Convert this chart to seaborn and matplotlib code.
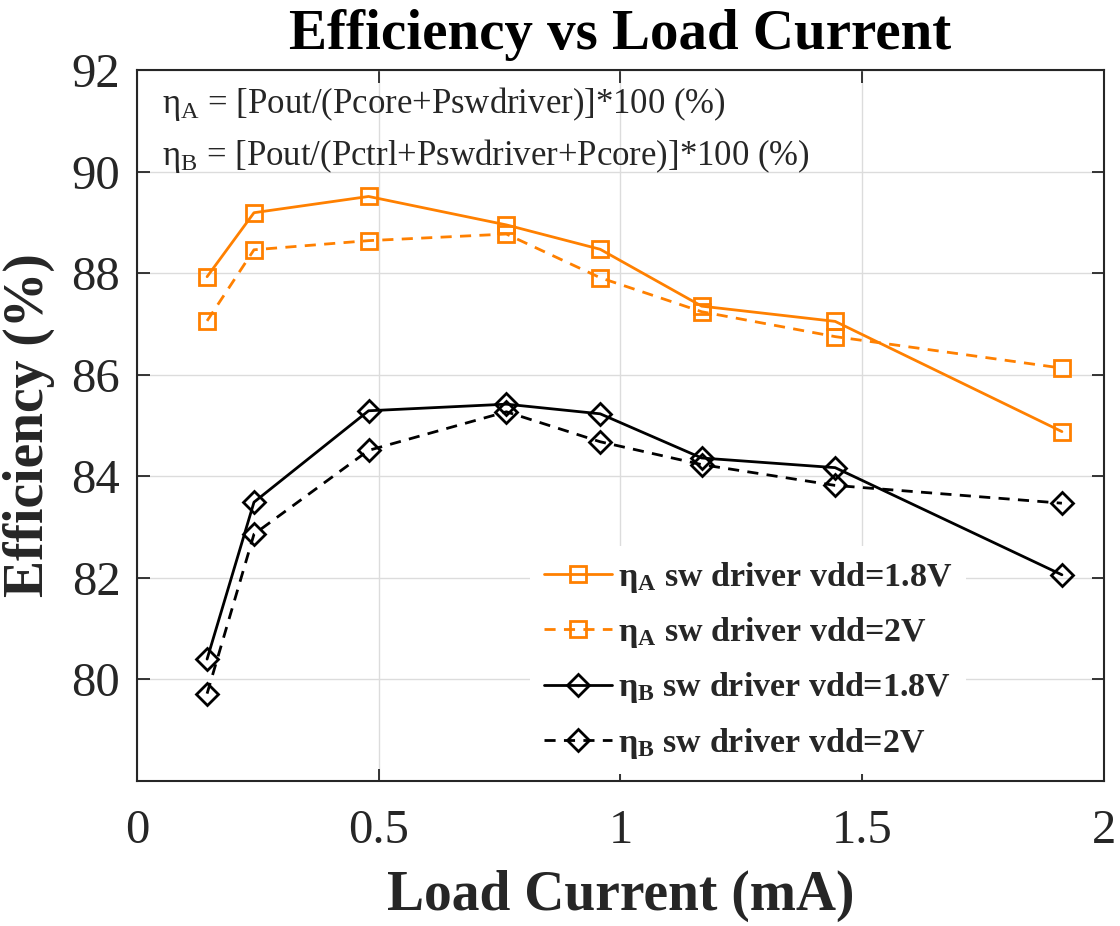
import matplotlib
matplotlib.use('Agg')
import matplotlib.pyplot as plt
import seaborn as sns

# ---- data ----
load_current = [0.145, 0.242, 0.479, 0.764, 0.958, 1.168, 1.444, 1.913]
eta_a_18v = [87.93, 89.19, 89.51, 88.95, 88.47, 87.35, 87.05, 84.88]
eta_a_2v = [87.06, 88.46, 88.64, 88.77, 87.91, 87.24, 86.75, 86.13]
eta_b_18v = [80.40, 83.49, 85.29, 85.42, 85.23, 84.36, 84.17, 82.06]
eta_b_2v = [79.72, 82.86, 84.51, 85.27, 84.68, 84.23, 83.82, 83.47]

series_labels = [
    r'η$_{\mathbf{A}}$ sw driver vdd=1.8V',
    r'η$_{\mathbf{A}}$ sw driver vdd=2V',
    r'η$_{\mathbf{B}}$ sw driver vdd=1.8V',
    r'η$_{\mathbf{B}}$ sw driver vdd=2V',
]
x_ticks = [0, 0.5, 1, 1.5, 2]
x_tick_labels = ['0', '0.5', '1', '1.5', '2']
y_ticks = [80, 82, 84, 86, 88, 90, 92]
note_a = r'η$_{\mathrm{A}}$ = [Pout/(Pcore+Pswdriver)]*100 (%)'
note_b = r'η$_{\mathrm{B}}$ = [Pout/(Pctrl+Pswdriver+Pcore)]*100 (%)'

# ---- style ----
sns.set_style('ticks')
plt.rcParams['font.family'] = ['Liberation Serif', 'DejaVu Serif']
plt.rcParams['mathtext.fontset'] = 'custom'
plt.rcParams['mathtext.rm'] = 'Liberation Serif'
plt.rcParams['mathtext.it'] = 'Liberation Serif:italic'
plt.rcParams['mathtext.bf'] = 'Liberation Serif:bold'

ORANGE = '#FF8000'
BLACK = '#000000'

fig = plt.figure(figsize=(11.2, 9.26), dpi=100)
ax = fig.add_axes([0.1223, 0.1566, 0.8634, 0.7678])

specs = [
    (eta_a_18v, ORANGE, 's', '-', 11),
    (eta_a_2v, ORANGE, 's', (0, (4, 3)), 11),
    (eta_b_18v, BLACK, 'D', '-', 11),
    (eta_b_2v, BLACK, 'D', (0, (4, 3)), 11),
]
for (vals, col, mk, ls, ms), lab in zip(specs, series_labels):
    sns.lineplot(x=load_current, y=vals, ax=ax, color=col, marker=mk,
                 markersize=ms, markerfacecolor='none', markeredgecolor=col,
                 markeredgewidth=2, linewidth=2, linestyle=ls,
                 sort=False, estimator=None, label=lab)

ax.set_xlim(0, 2)
ax.set_ylim(78, 92)
ax.set_xticks(x_ticks)
ax.set_xticklabels(x_tick_labels)
ax.set_yticks(y_ticks)
ax.grid(True, color='#dcdcdc', linewidth=1)
ax.set_axisbelow(True)

for sp in ax.spines.values():
    sp.set_visible(True)
    sp.set_color('#262626')
    sp.set_linewidth(1.5)

ax.tick_params(axis='both', direction='in', length=9, width=1.3,
               color='#262626', top=True, right=True, labelsize=35,
               labelcolor='#262626')
ax.tick_params(axis='x', pad=20)
ax.tick_params(axis='y', pad=12)

ax.set_title('Efficiency vs Load Current', fontsize=41, fontweight='bold', pad=15, color='black')
ax.set_xlabel('Load Current (mA)', fontsize=40, fontweight='bold', color='#262626', labelpad=12)
ax.set_ylabel('Efficiency (%)', fontsize=40, fontweight='bold', color='#262626', labelpad=12)

ax.text(0.052, 91.15, note_a, fontsize=25, color='#262626', va='baseline', ha='left')
ax.text(0.052, 90.13, note_b, fontsize=25, color='#262626', va='baseline', ha='left')

handles, labels = ax.get_legend_handles_labels()
leg = ax.legend(handles, labels, loc='upper left', bbox_to_anchor=(530 / 1120, 1 - 546 / 926),
                bbox_transform=fig.transFigure, frameon=True, facecolor='white',
                edgecolor='none', framealpha=1, fancybox=False,
                prop={'family': 'Liberation Serif', 'weight': 'bold', 'size': 24.5},
                handlelength=2.0, handletextpad=0.2, labelspacing=0.6,
                borderaxespad=0, borderpad=0.4)

fig.savefig('out.png', dpi=100)
